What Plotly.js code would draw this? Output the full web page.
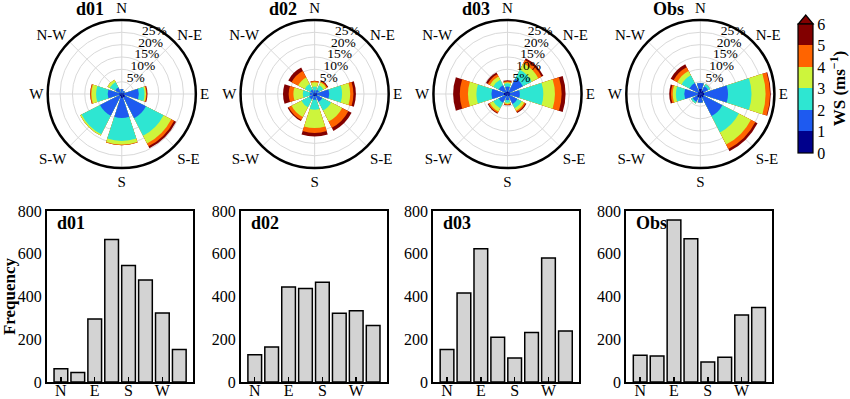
<!DOCTYPE html>
<html>
<head>
<meta charset="utf-8">
<script src="https://cdn.plot.ly/plotly-3.0.1.min.js"></script>
<style>html,body{margin:0;padding:0;background:#fff;}#chart{width:850px;height:399px;}</style>
</head>
<body>
<div id="chart"></div>
<script>
// ---------------- DATA ----------------
const directions = [0, 45, 90, 135, 180, 225, 270, 315]; // N, NE, E, SE, S, SW, W, NW
const dirLabels = ['N', 'N-E', 'E', 'S-E', 'S', 'S-W', 'W', 'N-W'];
const speedClasses = ['0-1', '1-2', '2-3', '3-4', '4-5', '5-6'];
const panelNames = ['d01', 'd02', 'd03', 'Obs'];
const radialTicks = [5, 10, 15, 20, 25];
const radialTickText = ['5%', '10%', '15%', '20%', '25%'];

// cumulative frequency (%) reached by each speed class, per direction (N, NE, E, SE, S, SW, W, NW)
const d01_cum = [
  [0.5, 0.5, 1.0, 1.5, 1.5, 1.0, 1.0, 0.5],     // <1
  [2.0, 1.5, 6.9, 11.0, 9.7, 9.9, 5.7, 3.0],    // <2
  [2.0, 1.5, 9.2, 19.0, 19.0, 18.3, 10.4, 5.5], // <3
  [2.0, 1.5, 9.8, 22.5, 20.4, 18.9, 12.3, 6.5], // <4
  [2.0, 1.5, 10.1, 23.8, 20.7, 18.9, 12.7, 6.5],// <5
  [2.0, 1.5, 10.4, 24.7, 20.7, 18.9, 12.8, 6.5] // <6
];
const d02_cum = [
  [0.5, 0.5, 1.0, 1.0, 0.8, 0.8, 0.5, 0.5],
  [1.5, 2.0, 5.9, 3.5, 2.3, 2.5, 2.0, 2.0],
  [3.0, 4.0, 11.1, 7.5, 6.4, 6.0, 4.8, 4.5],
  [4.8, 5.3, 14.4, 12.5, 13.8, 10.5, 8.6, 7.5],
  [5.3, 5.8, 15.7, 15.3, 15.8, 11.8, 10.5, 10.5],
  [5.4, 6.2, 16.7, 16.8, 17.2, 12.3, 12.8, 12.0]
];
const d03_cum = [
  [1.0, 1.0, 1.0, 1.0, 0.5, 1.0, 1.5, 1.0],
  [3.0, 7.0, 5.0, 4.5, 2.5, 4.0, 6.5, 4.0],
  [4.3, 11.0, 14.5, 6.5, 3.5, 6.5, 12.6, 6.5],
  [4.8, 14.0, 19.2, 7.6, 4.0, 8.0, 16.0, 8.0],
  [5.2, 15.5, 21.9, 8.2, 4.4, 8.6, 19.3, 9.0],
  [5.6, 16.3, 23.5, 8.6, 4.6, 9.0, 22.0, 9.8]
];
const obs_cum = [
  [2.0, 1.5, 1.5, 1.5, 1.5, 1.5, 1.0, 1.0],
  [4.5, 3.5, 11.2, 10.0, 3.5, 3.5, 6.5, 5.0],
  [4.5, 4.5, 20.7, 17.5, 3.5, 4.3, 9.9, 8.5],
  [4.5, 4.5, 26.4, 23.0, 3.5, 4.3, 11.2, 10.5],
  [4.5, 4.5, 28.2, 25.0, 3.5, 4.3, 11.9, 12.2],
  [4.5, 4.5, 28.5, 26.0, 3.5, 4.3, 12.6, 13.5]
];

// frequency counts per direction (bar charts)
const barPositions = [1, 2, 3, 4, 5, 6, 7, 8];
const barTickVals = [1, 3, 5, 7];
const barTickText = ['N', 'E', 'S', 'W'];
const d01_freq = [62, 44, 295, 667, 545, 477, 323, 152];
const d02_freq = [128, 164, 444, 437, 467, 322, 333, 264];
const d03_freq = [152, 416, 623, 209, 112, 231, 580, 239];
const obs_freq = [125, 122, 758, 670, 94, 116, 314, 348];

const colorbarTicks = [0, 1, 2, 3, 4, 5, 6];

// ---------------- STYLE ----------------
const W = 850, H = 399;
const SERIF = 'Times New Roman, Liberation Serif, serif';
const speedColors = ['#00008c', '#1e5af0', '#2ee6d2', '#cdf53c', '#ff6400', '#820000'];
const roseCum = [d01_cum, d02_cum, d03_cum, obs_cum];
const freqs = [d01_freq, d02_freq, d03_freq, obs_freq];

const roseCx = [122.5, 316.5, 510.5, 704.5];
const roseCy = 94, roseR = 74.5;
const barLeft = [47.3, 242.3, 435.7, 630];
const barWidthPx = 147;
const barTop = 211, barBottom = 382;
const labelTheta = 18, labelShift = 1.6;

const px = v => v / W;
const py = v => 1 - v / H;

const data = [];
const layout = {
  width: W, height: H,
  margin: {l: 0, r: 0, t: 0, b: 0},
  paper_bgcolor: '#fff',
  plot_bgcolor: '#fff',
  showlegend: false,
  font: {family: SERIF, color: '#000', size: 15},
  annotations: [],
  shapes: []
};

roseCum.forEach((cum, p) => {
  const key = p === 0 ? 'polar' : 'polar' + (p + 1);
  // draw the largest cumulative first, overlayed by smaller classes
  for (let k = speedClasses.length - 1; k >= 0; k--) {
    data.push({
      type: 'barpolar',
      subplot: key,
      r: cum[k],
      theta: directions,
      width: 36,
      name: speedClasses[k],
      marker: {color: speedColors[k], line: {width: 0}},
      hoverinfo: 'skip'
    });
  }
  // radial percentage labels
  data.push({
    type: 'scatterpolar', subplot: key, mode: 'text',
    r: radialTicks.map(v => v + labelShift), theta: radialTicks.map(() => labelTheta),
    text: radialTickText, textposition: 'middle right',
    textfont: {family: SERIF, size: 13.5, color: '#000'},
    cliponaxis: false, hoverinfo: 'skip'
  });
  layout[key] = {
    domain: {x: [px(roseCx[p] - roseR), px(roseCx[p] + roseR)], y: [py(roseCy + roseR), py(roseCy - roseR)]},
    barmode: 'overlay',
    bgcolor: '#fff',
    angularaxis: {
      direction: 'clockwise', rotation: 90,
      tickmode: 'array', tickvals: directions, ticktext: dirLabels,
      showline: true, linecolor: '#000', linewidth: 2.5,
      showgrid: true, gridcolor: '#d9d9d9', gridwidth: 1,
      ticks: '', tickfont: {family: SERIF, size: 15, color: '#000'}
    },
    radialaxis: {
      range: [0, 30], tickmode: 'array', tickvals: radialTicks,
      showticklabels: false,
      showline: false, showgrid: true, gridcolor: '#d9d9d9', gridwidth: 1,
      ticks: ''
    }
  };
  layout.annotations.push({
    text: '<b>' + panelNames[p] + '</b>', xref: 'paper', yref: 'paper',
    x: px(roseCx[p] - 32), y: py(9), xanchor: 'center', yanchor: 'middle',
    showarrow: false, font: {family: SERIF, size: 18, color: '#000'}
  });
});

freqs.forEach((f, p) => {
  const xa = p === 0 ? 'xaxis' : 'xaxis' + (p + 1);
  const ya = p === 0 ? 'yaxis' : 'yaxis' + (p + 1);
  const xr = p === 0 ? 'x' : 'x' + (p + 1);
  const yr = p === 0 ? 'y' : 'y' + (p + 1);
  data.push({
    type: 'bar', x: barPositions, y: f, xaxis: xr, yaxis: yr,
    width: 0.81,
    marker: {color: '#d3d3d3', line: {color: '#000', width: 1.5}},
    hoverinfo: 'skip'
  });
  layout[xa] = {
    domain: [px(barLeft[p]), px(barLeft[p] + barWidthPx)],
    anchor: yr, range: [0.18, 8.82],
    tickmode: 'array', tickvals: barTickVals, ticktext: barTickText,
    ticks: 'inside', ticklen: 5, tickwidth: 1.5, tickcolor: '#000',
    ticklabelstandoff: -7,
    showline: true, mirror: true, linecolor: '#000', linewidth: 2,
    showgrid: false, zeroline: false,
    tickfont: {family: SERIF, size: 16, color: '#000'}
  };
  layout[ya] = {
    domain: [py(barBottom), py(barTop)],
    anchor: xr, range: [0, 800],
    tickmode: 'array', tickvals: [0, 200, 400, 600, 800],
    ticks: '', showline: true, mirror: true, linecolor: '#000', linewidth: 2,
    showgrid: false, zeroline: false,
    tickfont: {family: SERIF, size: 16, color: '#000'}
  };
  layout.annotations.push({
    text: '<b>' + panelNames[p] + '</b>', xref: 'paper', yref: 'paper',
    x: px(barLeft[p] + 8), y: py(223), xanchor: 'left', yanchor: 'middle',
    showarrow: false, font: {family: SERIF, size: 18, color: '#000'}
  });
});
layout.yaxis.title = {text: '<b>Frequency</b>', font: {family: SERIF, size: 17, color: '#000'}, standoff: 6};

// colorbar via hidden helper trace
const cbTop = 24, cbBottom = 153, cbLeft = 803, cbThick = 15;
const cs = [];
speedColors.forEach((c, i) => { cs.push([i / 6, c]); cs.push([(i + 1) / 6, c]); });
data.push({
  type: 'scatter', x: [0], y: [0], xaxis: 'x5', yaxis: 'y5', mode: 'markers',
  hoverinfo: 'skip',
  marker: {
    color: [0], cmin: 0, cmax: 6, colorscale: cs, opacity: 0, size: 1,
    showscale: true,
    colorbar: {
      x: px(cbLeft), xanchor: 'left', xpad: 0,
      y: py(cbBottom), yanchor: 'bottom', ypad: 0,
      len: (cbBottom - cbTop) / H, lenmode: 'fraction',
      thickness: cbThick, thicknessmode: 'pixels',
      outlinewidth: 1.2, outlinecolor: '#000',
      tickmode: 'array', tickvals: colorbarTicks, ticks: '',
      tickfont: {family: SERIF, size: 16, color: '#000'},
      title: {text: '<b>WS (ms<sup>−1</sup>)</b>', side: 'right', font: {family: SERIF, size: 17, color: '#000'}}
    }
  }
});
layout.xaxis5 = {domain: [0.99, 1], visible: false, range: [5, 6]};
layout.yaxis5 = {domain: [0.99, 1], visible: false, range: [5, 6], anchor: 'x5'};
layout.shapes.push({
  type: 'path', xref: 'paper', yref: 'paper',
  path: `M ${px(cbLeft)} ${py(cbTop)} L ${px(cbLeft + cbThick / 2)} ${py(cbTop - 9)} L ${px(cbLeft + cbThick)} ${py(cbTop)} Z`,
  fillcolor: speedColors[5], line: {color: '#000', width: 1.2}
});

Plotly.newPlot('chart', data, layout, {staticPlot: true, displayModeBar: false});
</script>
</body>
</html>
